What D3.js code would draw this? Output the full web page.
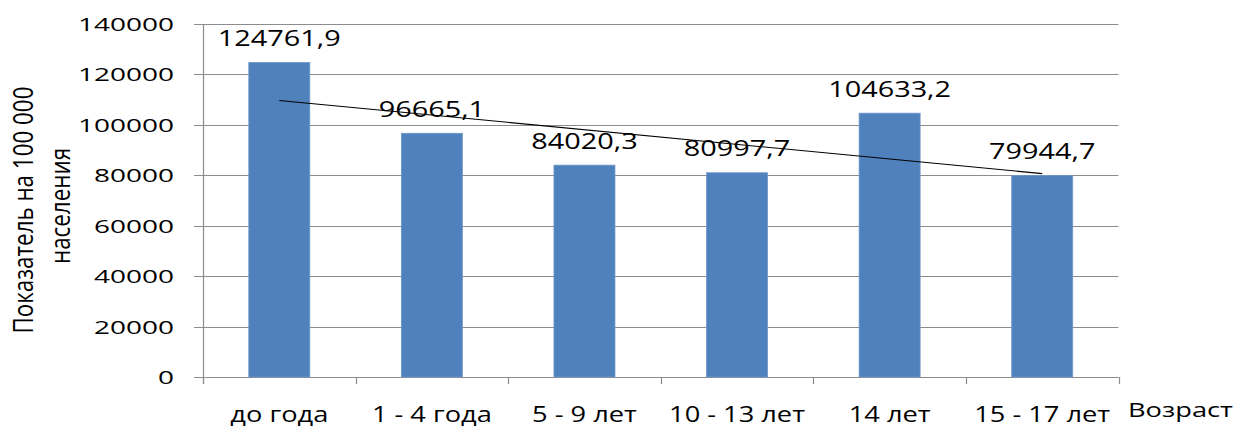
<!DOCTYPE html>
<html>
<head>
<meta charset="utf-8">
<script src="https://cdn.jsdelivr.net/npm/d3@7/dist/d3.min.js"></script>
<style>
html,body{margin:0;padding:0;background:#fff;}
svg{display:block;}
text{font-family:"Open Sans","Noto Sans",sans-serif;fill:#000;}
</style>
</head>
<body>
<svg id="chart" width="1242" height="427"></svg>
<script>
// ---- data ----
const categories = ["до года", "1 - 4 года", "5 - 9 лет", "10 - 13 лет", "14 лет", "15 - 17 лет"];
const values = [124761.9, 96665.1, 84020.3, 80997.7, 104633.2, 79944.7];
const valueLabels = ["124761,9", "96665,1", "84020,3", "80997,7", "104633,2", "79944,7"];
const yTicks = [0, 20000, 40000, 60000, 80000, 100000, 120000, 140000];
const yTitleLines = ["Показатель на 100 000", "населения"];
const xTitle = "Возраст";

(function () {
// ---- layout ----
const svg = d3.select("#chart");
const pLeft = 203, pRight = 1118.5, pTop = 24, pBottom = 377;
const x = d3.scaleBand().domain(categories).range([pLeft, pRight]).paddingInner(0).paddingOuter(0);
const y = d3.scaleLinear().domain([0, 140000]).range([pBottom, pTop]);
const barW = 61;
const gridColor = "#8c8c8c";

// gridlines
svg.append("g").selectAll("line").data(yTicks).join("line")
  .attr("x1", pLeft - 9).attr("x2", pRight)
  .attr("y1", d => Math.round(y(d)) + 0.5).attr("y2", d => Math.round(y(d)) + 0.5)
  .attr("stroke", gridColor).attr("stroke-width", 1.2);

// y axis line
svg.append("line").attr("x1", pLeft + 0.5).attr("x2", pLeft + 0.5)
  .attr("y1", pTop).attr("y2", pBottom + 7).attr("stroke", gridColor).attr("stroke-width", 1.2);

// x ticks at category boundaries
const bounds = categories.map(c => x(c)).concat([pRight]);
svg.append("g").selectAll("line").data(bounds).join("line")
  .attr("x1", d => Math.round(d) + 0.5).attr("x2", d => Math.round(d) + 0.5)
  .attr("y1", pBottom).attr("y2", pBottom + 7)
  .attr("stroke", gridColor).attr("stroke-width", 1.2);

// bars
svg.append("g").selectAll("rect").data(values).join("rect")
  .attr("x", (d, i) => x(categories[i]) + x.bandwidth() / 2 - barW / 2)
  .attr("width", barW)
  .attr("y", d => y(d))
  .attr("height", d => pBottom - y(d))
  .attr("fill", "#4f81bd")
  .attr("stroke", "#6f97c9").attr("stroke-width", 0.8);

// linear trend line (least squares over category index)
const n = values.length;
const xs = d3.range(1, n + 1);
const mx = d3.mean(xs), my = d3.mean(values);
const slope = d3.sum(xs, (v, i) => (v - mx) * (values[i] - my)) / d3.sum(xs, v => (v - mx) ** 2);
const icpt = my - slope * mx;
const cx = i => x(categories[i]) + x.bandwidth() / 2;
svg.append("line")
  .attr("x1", cx(0)).attr("y1", y(icpt + slope * 1))
  .attr("x2", cx(n - 1)).attr("y2", y(icpt + slope * n))
  .attr("stroke", "#000").attr("stroke-width", 1.1);

function measure(str, size) {
  const t = svg.append("text").attr("font-size", size).text(str);
  const w = t.node().getComputedTextLength();
  t.remove();
  return w;
}
function stretchedText(g, str, px, py, size, targetRefWidth, refWidthMeasured, anchor) {
  const t = g.append("text").attr("font-size", size).attr("text-anchor", anchor || "middle").text(str);
  const sx = targetRefWidth / refWidthMeasured;
  t.attr("transform", `translate(${px},${py}) scale(${sx},1)`);
  return t;
}

// y tick labels
const tickSize = 19;
const tickRef = measure("140000", tickSize);
const gY = svg.append("g");
yTicks.forEach(v => {
  stretchedText(gY, String(v), 174, y(v) + 7, tickSize, 96, tickRef, "end");
});

// value labels
const valSize = 22.5;
const valRef = measure("124761,9", valSize);
const gV = svg.append("g");
values.forEach((v, i) => {
  stretchedText(gV, valueLabels[i], cx(i), y(v) - 16.5, valSize, 123, valRef, "middle");
});

// category labels
const catSize = 21;
const catRef = measure("1 - 4 года", catSize);
const gC = svg.append("g");
categories.forEach((c, i) => {
  stretchedText(gC, c, cx(i), 422, catSize, 120, catRef, "middle");
});

// x title
const xtSize = 20;
const xtRef = measure(xTitle, xtSize);
stretchedText(svg, xTitle, 1128, 417, xtSize, 105, xtRef, "start");

// y title (rotated, glyph thickness stretched horizontally)
const ytSize0 = 20;
const ytLen = measure(yTitleLines[0], ytSize0);
const ytSize = ytSize0 * 247 / ytLen;
const ySx = 1.2;
const yc = 210;
svg.append("text").attr("font-size", ytSize).attr("text-anchor", "middle")
  .attr("transform", `translate(33,${yc}) scale(${ySx},1) rotate(-90)`)
  .text(yTitleLines[0]);
svg.append("text").attr("font-size", ytSize).attr("text-anchor", "middle")
  .attr("transform", `translate(70,${yc - 4}) scale(${ySx},1) rotate(-90)`)
  .text(yTitleLines[1]);
})();
</script>
</body>
</html>
